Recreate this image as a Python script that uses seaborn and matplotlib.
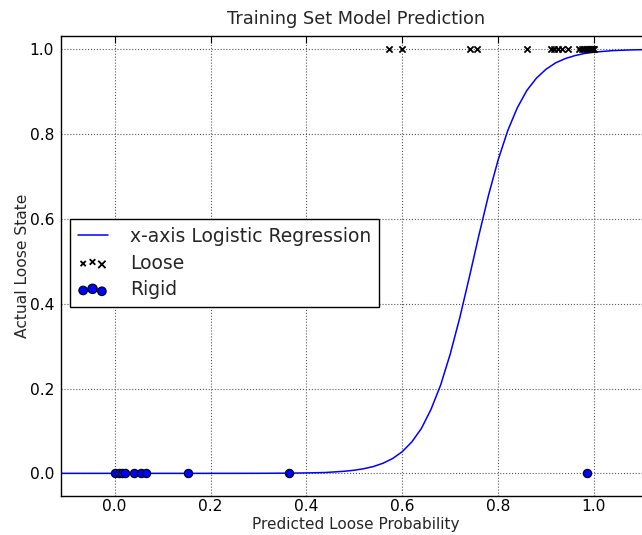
import matplotlib
matplotlib.use("Agg")
import matplotlib.pyplot as plt
import seaborn as sns
from matplotlib.legend_handler import HandlerPathCollection

# Fitted logistic-regression curve (predicted probability -> loose state)
curve_x = [-0.12, 0.00, 0.20, 0.30, 0.36, 0.40, 0.44, 0.48, 0.50, 0.52, 0.54,
           0.56, 0.58, 0.60, 0.62, 0.64, 0.66, 0.68, 0.70, 0.72, 0.74, 0.76,
           0.78, 0.80, 0.82, 0.84, 0.86, 0.88, 0.90, 0.92, 0.94, 0.96, 0.98,
           1.00, 1.04, 1.08, 1.12, 1.16]
curve_y = [0.0, 0.0, 0.0, 0.0001, 0.0005, 0.001, 0.002, 0.005, 0.0074, 0.011,
           0.0162, 0.0239, 0.035, 0.0511, 0.0742, 0.106, 0.151, 0.208, 0.281,
           0.367, 0.463, 0.562, 0.656, 0.739, 0.808, 0.862, 0.903, 0.932,
           0.953, 0.968, 0.978, 0.985, 0.990, 0.9933, 0.9969, 0.9986, 0.9994,
           0.9997]

# Training samples: predicted probability for each class
loose_x = [0.572, 0.600, 0.742, 0.756, 0.860, 0.910, 0.917, 0.925, 0.933,
           0.946, 0.968, 0.975, 0.980, 0.984, 0.988, 0.991, 0.994, 0.996,
           0.998, 0.999]
loose_y = [1.0] * len(loose_x)
rigid_x = [0.001, 0.008, 0.015, 0.022, 0.041, 0.055, 0.066, 0.152, 0.363, 0.985]
rigid_y = [0.0] * len(rigid_x)

x_ticks = [0.0, 0.2, 0.4, 0.6, 0.8, 1.0]
y_ticks = [0.0, 0.2, 0.4, 0.6, 0.8, 1.0]

sns.set_style("white")
plt.rcParams["font.family"] = ["DejaVu Sans"]

fig = plt.figure(figsize=(6.42, 5.35), dpi=100)
ax = fig.add_axes([61 / 642, 39 / 535, (651.5 - 61) / 642, (496 - 36) / 535])

sns.lineplot(x=curve_x, y=curve_y, color="b", linewidth=1.1, sort=False,
             estimator=None, ax=ax, label="x-axis Logistic Regression")
sns.scatterplot(x=loose_x, y=loose_y, marker="x", color="k", s=20,
                linewidth=1.3, ax=ax, label="Loose", zorder=3)
sns.scatterplot(x=rigid_x, y=rigid_y, color="b", edgecolor="k", s=36,
                linewidth=0.8, ax=ax, label="Rigid", zorder=3)

ax.set_xlim(-0.112, 1.12)
ax.set_ylim(-0.0534, 1.0313)
ax.set_xticks(x_ticks)
ax.set_yticks(y_ticks)
ax.grid(True, linestyle=":", color="0.35", linewidth=0.8)
ax.tick_params(direction="in", top=True, right=True, length=5, width=0.8,
               labelsize=11.2, colors="k")
ax.tick_params(axis="x", pad=2)
ax.tick_params(axis="y", pad=5)
for sp in ax.spines.values():
    sp.set_color("k")
    sp.set_linewidth(1.0)

ax.set_xlabel("Predicted Loose Probability", fontsize=11)
ax.xaxis.set_label_coords(0.5, -0.0465)
ax.set_ylabel("Actual Loose State", fontsize=11.2, labelpad=0)
ax.set_title("Training Set Model Prediction", fontsize=12.8, pad=9)

handles, labels = ax.get_legend_handles_labels()
hmap = {
    handles[1]: HandlerPathCollection(sizes=[14, 16, 28]),
    handles[2]: HandlerPathCollection(sizes=[38, 46, 38]),
}
leg = ax.legend(handles, labels, loc="center left",
                bbox_to_anchor=(9 / 590, 0.5065), fontsize=13.5,
                scatterpoints=3, handlelength=1.6, handletextpad=1.2,
                labelspacing=0.42, frameon=True, fancybox=False,
                edgecolor="k", framealpha=1, borderaxespad=0,
                handler_map=hmap)
leg.get_frame().set_linewidth(1.0)

fig.savefig("out.png", dpi=100)
